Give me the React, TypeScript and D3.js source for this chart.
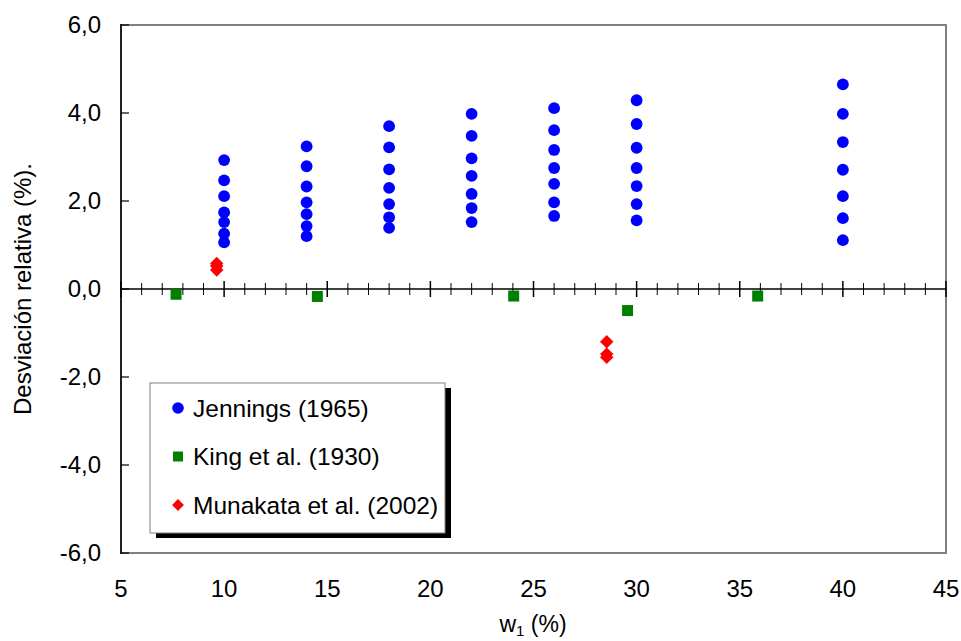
import React from "react";
import * as d3 from "d3";

// Relative deviation (%) versus w1 (%)
const jenningsX = [10, 14, 18, 22, 26, 30, 40];
const jenningsY = [
  [2.93, 2.47, 2.11, 1.74, 1.52, 1.26, 1.06],
  [3.24, 2.79, 2.33, 1.97, 1.7, 1.43, 1.2],
  [3.7, 3.22, 2.72, 2.3, 1.93, 1.63, 1.39],
  [3.98, 3.48, 2.97, 2.57, 2.16, 1.84, 1.52],
  [4.11, 3.61, 3.16, 2.75, 2.39, 1.97, 1.66],
  [4.29, 3.75, 3.21, 2.75, 2.34, 1.93, 1.56],
  [4.65, 3.98, 3.34, 2.71, 2.11, 1.61, 1.11],
];
const kingX = [7.67, 14.52, 24.04, 29.56, 35.87];
const kingY = [-0.12, -0.17, -0.16, -0.49, -0.16];
const munakataX = [9.64, 9.64, 9.64, 28.55, 28.55, 28.55];
const munakataY = [0.58, 0.52, 0.43, -1.2, -1.48, -1.55];

const xTicks = [5, 10, 15, 20, 25, 30, 35, 40, 45];
const yTicks = [6, 4, 2, 0, -2, -4, -6];
const legendLabels = ["Jennings (1965)", "King et al. (1930)", "Munakata et al. (2002)"];

const W = 961;
const H = 641;
const FONT = "'Liberation Sans', Arial, sans-serif";

export default function App() {
  const x = d3.scaleLinear().domain([5, 45]).range([121, 946]);
  const y = d3.scaleLinear().domain([-6, 6]).range([553, 25]);
  const fmt = (v: number) => d3.format(".1f")(v).replace(".", ",").replace("−", "-");

  const minorTicks = d3.range(5, 46, 1).filter((v) => v % 5 !== 0);
  const jPoints = jenningsX.flatMap((xv, i) => jenningsY[i].map((yv) => [xv, yv]));

  const diamond = d3.symbol().type(d3.symbolDiamond2).size(115)();
  const legendDiamond = d3.symbol().type(d3.symbolDiamond2).size(90)();

  const lx = 150, ly = 383, lw = 295, lh = 150;

  return (
    <svg width={W} height={H} style={{ position: "absolute", left: 0, top: 0 }} fontFamily={FONT}>
      <rect x={0} y={0} width={W} height={H} fill="#fff" />
      {/* plot frame */}
      <rect x={121} y={25} width={825} height={528} fill="#fff" stroke="#808080" strokeWidth={2} />
      <line x1={121} x2={121} y1={24} y2={554} stroke="#000" strokeWidth={1.5} />

      {/* y ticks and labels */}
      {yTicks.map((t) => (
        <g key={t}>
          <line x1={121} x2={129} y1={y(t)} y2={y(t)} stroke="#000" strokeWidth={1.2} />
          <text x={101} y={y(t)} dy="0.35em" textAnchor="end" fontSize={24} fill="#000">
            {fmt(t)}
          </text>
        </g>
      ))}

      {/* x axis at zero */}
      <line x1={121} x2={946} y1={y(0)} y2={y(0)} stroke="#000" strokeWidth={1.5} />
      {minorTicks.map((t) => (
        <line key={t} x1={x(t)} x2={x(t)} y1={y(0) - 6} y2={y(0) + 6} stroke="#000" strokeWidth={1} />
      ))}
      {xTicks.map((t) => (
        <g key={t}>
          <line x1={x(t)} x2={x(t)} y1={y(0) - 8} y2={y(0) + 8} stroke="#000" strokeWidth={1.5} />
          <text x={x(t)} y={597} textAnchor="middle" fontSize={24} fill="#000">
            {t}
          </text>
        </g>
      ))}

      {/* series */}
      {jPoints.map(([xv, yv], i) => (
        <circle key={"j" + i} cx={x(xv)} cy={y(yv)} r={5.9} fill="#0000ff" />
      ))}
      {kingX.map((xv, i) => (
        <rect key={"k" + i} x={x(xv) - 5.5} y={y(kingY[i]) - 5.5} width={11} height={11} fill="#008000" />
      ))}
      {munakataX.map((xv, i) => (
        <path key={"m" + i} d={diamond!} transform={`translate(${x(xv)},${y(munakataY[i])})`} fill="#ff0000" />
      ))}

      {/* legend */}
      <rect x={lx + 6} y={ly + 5} width={lw} height={lh} fill="#000" />
      <rect x={lx} y={ly} width={lw} height={lh} fill="#fff" stroke="#808080" strokeWidth={1} />
      {legendLabels.map((lab, i) => {
        const cy = 408 + i * 48.5;
        return (
          <g key={lab}>
            {i === 0 && <circle cx={178} cy={cy} r={5.8} fill="#0000ff" />}
            {i === 1 && <rect x={173} y={cy - 5} width={10} height={10} fill="#008000" />}
            {i === 2 && <path d={legendDiamond!} transform={`translate(178,${cy})`} fill="#ff0000" />}
            <text x={193} y={cy} dy="0.35em" fontSize={24.5} fill="#000">
              {lab}
            </text>
          </g>
        );
      })}

      {/* axis titles */}
      <text x={533} y={632} textAnchor="middle" fontSize={23} fill="#000">
        w<tspan fontSize={15} dy={4}>1</tspan>
        <tspan dy={-4}> (%)</tspan>
      </text>
      <text
        transform="translate(31,289) rotate(-90)"
        textAnchor="middle"
        fontSize={24}
        fill="#000"
      >
        Desviación relativa (%).
      </text>
    </svg>
  );
}
